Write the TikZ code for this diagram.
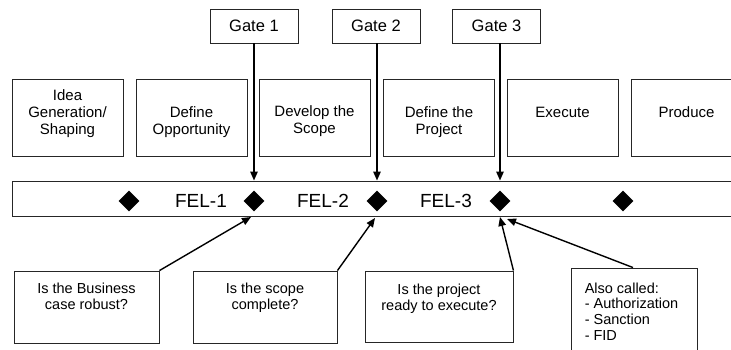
\documentclass[tikz,border=0pt]{standalone}
\usepackage{fontspec}
\setmainfont{Liberation Sans}
\usetikzlibrary{arrows.meta,shapes.geometric}
\begin{document}
\begin{tikzpicture}[x=1pt,y=-1pt,
  box/.style={draw=black!85,line width=0.9pt,inner sep=0pt},
  phase/.style={box,minimum width=111pt,minimum height=77pt},
  gate/.style={box,minimum width=88pt,minimum height=34pt,font=\fontsize{16.5}{19}\selectfont},
  question/.style={box,minimum height=72pt},
  phtext/.style={inner sep=0pt,align=center,anchor=north,font=\fontsize{15}{17}\selectfont},
  qtext/.style={inner sep=0pt,align=center,anchor=north,font=\fontsize{14.5}{16.5}\selectfont},
  milestone/.style={diamond,fill=black,inner sep=0pt,minimum width=21pt,minimum height=21pt},
  fel/.style={inner sep=0pt,font=\fontsize{19}{21}\selectfont},
  arr/.style={line width=1.4pt,-{Triangle[length=9pt,width=7.5pt]}}]
\clip (0,0) rectangle (731,349);

% gate reviews
\node[gate] (g1) at (254,26) {Gate 1};
\node[gate] (g2) at (376,26) {Gate 2};
\node[gate] (g3) at (496.5,26) {Gate 3};

% project phases
\node[phase] (p1) at (67.5,117.5) {};
\node[phase] (p2) at (191.5,117.5) {};
\node[phase] (p3) at (314.5,117.5) {};
\node[phase] (p4) at (439,117.5) {};
\node[phase] (p5) at (562.5,117.5) {};
\node[phase] (p6) at (686.5,117.5) {};
\node[phtext] (t1) at ([yshift=-11pt]p1.north) {Idea\\Generation/\\Shaping};
\node[phtext] (t2) at ([yshift=-28pt]p2.north) {Define\\Opportunity};
\node[phtext] (t3) at ([yshift=-27pt]p3.north) {Develop the\\Scope};
\node[phtext] (t4) at ([yshift=-28pt]p4.north) {Define the\\Project};
\node[phtext] (t5) at ([yshift=-28pt]p5.north) {Execute};
\node[phtext] (t6) at ([yshift=-28pt]p6.north) {Produce};

% timeline band with milestones
\node[box,line width=1pt,minimum width=733pt,minimum height=35pt] (band) at (378.5,198.5) {};
\node[milestone] (d0) at (129,201) {};
\node[milestone] (d1) at (254,201) {};
\node[milestone] (d2) at (377,201) {};
\node[milestone] (d3) at (500,201) {};
\node[milestone] (d4) at (623,201) {};
\node[fel] (f1) at (201,201) {FEL-1};
\node[fel] (f2) at (323,201) {FEL-2};
\node[fel] (f3) at (446,201) {FEL-3};

\draw[arr] (d1 |- g1.south) -- (d1 |- band.north);
\draw[arr] (d2 |- g2.south) -- (d2 |- band.north);
\draw[arr] (d3 |- g3.south) -- (d3 |- band.north);

% gate questions
\node[question,minimum width=145pt] (qa) at (86.5,307) {};
\node[question,minimum width=144pt] (qb) at (265,307) {};
\node[question,minimum width=148pt,minimum height=71pt] (qc) at (439,306.5) {};
\node[question,minimum width=126pt,minimum height=92pt] (qd) at (634,314) {};
\node[qtext] (ta) at ([yshift=-12pt]qa.north) {Is the Business\\case robust?};
\node[qtext] (tb) at ([yshift=-12pt]qb.north) {Is the scope\\complete?};
\node[qtext] (tc) at ([yshift=-13pt]qc.north) {Is the project\\ready to execute?};
\node[qtext,align=left,anchor=north west,font=\fontsize{14.5}{15.7}\selectfont] (td)
  at ([xshift=14pt,yshift=-15pt]qd.north west) {Also called:\\- Authorization\\- Sanction\\- FID};

\coordinate (ea) at (251,217);
\coordinate (eb) at (375,218);
\coordinate (ec) at (500,217);
\coordinate (ed) at (507,219);
\draw[arr] (qa.north east) -- (ea);
\draw[arr] (qb.north east) -- (eb);
\draw[arr] (qc.north east) -- (ec);
\draw[arr] ([xshift=-1pt]qd.north) -- (ed);
\end{tikzpicture}
\end{document}
